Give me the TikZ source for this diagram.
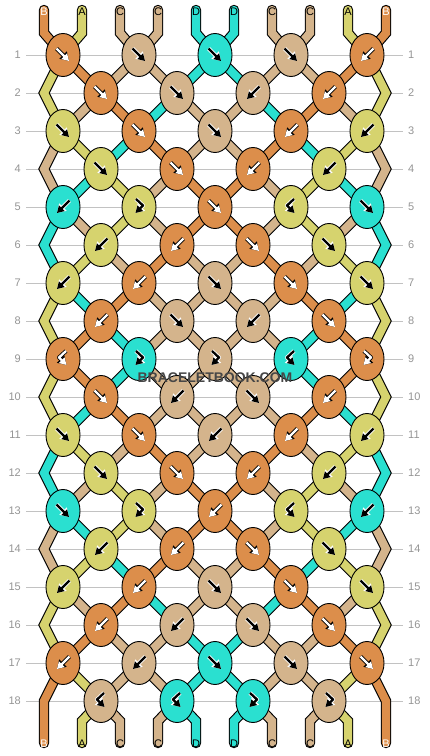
\documentclass[tikz,border=0pt]{standalone}
\usepackage{fontspec}
\setmainfont{Liberation Sans}
\usetikzlibrary{arrows.meta,shapes.geometric}

% thread colours: A yellow, B orange, C tan, D cyan
\definecolor{thA}{HTML}{D6D36E}
\definecolor{thB}{HTML}{DC8E4B}
\definecolor{thC}{HTML}{D4B48C}
\definecolor{thD}{HTML}{2AE0D0}
\colorlet{fgA}{black}\colorlet{fgB}{white}\colorlet{fgC}{black}\colorlet{fgD}{black}
\colorlet{bgA}{white}\colorlet{bgB}{black}\colorlet{bgC}{white}\colorlet{bgD}{white}

\tikzset{
  thread/.style={line width=8.2pt,line cap=round,line join=miter},
  threadrim/.style={thread,line width=10.4pt,draw=black},
  threadfill/.style={thread,draw=th\c},
  arrowrim/.style={draw=bg\c,line width=4pt,line join=round,-{Triangle[length=8.4pt,width=10pt]}},
  arrowfill/.style={draw=fg\c,line width=2.3pt,line join=round,-{Triangle[length=6.8pt,width=7.6pt]}},
}

\newcommand{\knotarrow}[1]{\draw[arrowrim] #1; \draw[arrowfill] #1;}
\newcommand{\arrowF}{\knotarrow{(-6.5,-6.5) -- (6,6)}}
\newcommand{\arrowB}{\knotarrow{(6.5,-6.5) -- (-6,6)}}
\newcommand{\arrowFB}{\knotarrow{(-3,-8) -- (4,-1.5) -- (-3.5,6)}}
\newcommand{\arrowBF}{\knotarrow{(3,-8) -- (-4,-1.5) -- (3.5,6)}}

% all thread pieces, once for the black rim and once for the colour
\newcommand{\drawstrands}[1]{%
  \foreach \c [count=\p] in {B,A,C,C,D,D,C,C,A,B}
    \draw[#1] (p0-\p) -- (s\p) -- (p1-\p);
  \foreach \g/\arr in {1/{A,B,C,C,D,D,C,C,B,A},2/{A,C,B,D,C,C,D,B,C,A},
      3/{C,A,D,B,C,C,B,D,A,C},4/{C,D,A,C,B,B,C,A,D,C},5/{D,C,A,C,B,B,C,A,C,D},
      6/{D,A,C,B,C,C,B,C,A,D},7/{A,D,B,C,C,C,C,B,D,A},8/{A,B,D,C,C,C,C,D,B,A},
      9/{A,B,D,C,C,C,C,D,B,A},10/{A,D,B,C,C,C,C,B,D,A},11/{D,A,C,B,C,C,B,C,A,D},
      12/{D,C,A,C,B,B,C,A,C,D},13/{C,D,A,C,B,B,C,A,D,C},14/{C,A,D,B,C,C,B,D,A,C},
      15/{A,C,B,D,C,C,D,B,C,A},16/{A,B,C,C,D,D,C,C,B,A},17/{B,A,C,C,D,D,C,C,A,B}} {
    \pgfmathtruncatemacro\gn{\g+1}
    \pgfmathtruncatemacro\gnn{\g+2}
    \foreach \c [count=\p] in \arr {
      \pgfmathtruncatemacro\edge{(\p==1)||(\p==10)}
      \ifnum\edge=1
        \ifodd\g\relax \draw[#1] (p\g-\p) -- (p\gn-\p) -- (p\gnn-\p);\fi
      \else
        \draw[#1] (p\g-\p) -- (p\gn-\p);
      \fi
    }
  }
  \foreach \c [count=\p] in {B,A,C,C,D,D,C,C,A,B} {
    \ifnum\p>1 \ifnum\p<10 \draw[#1] (p18-\p) -- (q\p) -- (p19-\p);\fi\fi
  }
}

\begin{document}
\begin{tikzpicture}[x=1pt,y=-1pt,
    knot/.style={ellipse,draw=black,line width=0.9pt,inner sep=0pt,
      minimum width=34pt,minimum height=43pt},
    rowline/.style={draw=black!24,line width=1pt},
    rownum/.style={text=black!42,inner sep=0pt,font=\fontsize{11}{11}\selectfont},
    endlabel/.style={inner sep=0pt,font=\fontsize{11}{11}\selectfont},
    watermark/.style={inner sep=0pt,font=\bfseries\fontsize{14}{14}\selectfont}]
  \useasboundingbox (0,0) rectangle (430,756);

  % row numbers and guide lines
  \foreach \r in {1,...,18} {
    \node[rownum,anchor=east] (left\r) at (21,17+38*\r) {\r};
    \node[rownum,anchor=west] (right\r) at (408,17+38*\r) {\r};
    \draw[rowline] ([xshift=5pt]left\r.east) -- ([xshift=-5pt]right\r.west);
  }

  % where each thread position sits in each row
  \foreach \r in {1,...,18}
    \foreach \p in {1,...,10} {
      \pgfmathsetmacro\px{isodd(\r) ? 63+76*int((\p-1)/2) :
        ((\p==1) ? 44 : ((\p==10) ? 386 : 101+76*int((\p-2)/2)))}
      \coordinate (p\r-\p) at (\px,17+38*\r);
    }
  \foreach \p in {1,...,10} {
    \coordinate (p0-\p) at (6+38*\p,10);
    \coordinate (s\p) at (6+38*\p,33);
    \coordinate (q\p) at (6+38*\p,721);
    \coordinate (p19-\p) at (6+38*\p,743);
  }

  \drawstrands{threadrim}
  \drawstrands{threadfill}

  % knots: colour/type
  \foreach \r/\row in {1/{B/F,C/F,D/F,C/F,B/B},2/{B/F,C/F,C/B,B/B},
      3/{A/F,B/F,C/F,B/B,A/B},4/{A/F,B/F,B/B,A/B},5/{D/B,A/FB,B/F,A/BF,D/F},
      6/{A/B,B/B,B/F,A/F},7/{A/B,B/B,C/F,B/F,A/F},8/{B/B,C/F,C/B,B/F},
      9/{B/BF,D/FB,C/FB,D/BF,B/FB},10/{B/F,C/B,C/F,B/B},11/{A/F,B/F,C/B,B/B,A/B},
      12/{A/F,B/F,B/B,A/B},13/{D/F,A/FB,B/B,A/BF,D/B},14/{A/B,B/B,B/F,A/F},
      15/{A/B,B/B,C/F,B/F,A/F},16/{B/B,C/B,C/F,B/F},17/{B/B,C/B,D/F,C/F,B/F},
      18/{C/BF,D/BF,D/FB,C/FB}} {
    \foreach \c/\t [count=\i] in \row {
      \pgfmathsetmacro\kx{(isodd(\r) ? 63 : 101)+76*(\i-1)}
      \node[knot,fill=th\c] (k\r-\i) at (\kx,17+38*\r) {};
      \begin{scope}[shift={(k\r-\i)}]
        \csname arrow\t\endcsname
      \end{scope}
    }
  }

  % thread letters
  \foreach \c [count=\p] in {B,A,C,C,D,D,C,C,A,B} {
    \node[endlabel,text=fg\c] (top\p) at (6+38*\p,12) {\c};
    \node[endlabel,text=fg\c] (bot\p) at (6+38*\p,744) {\c};
  }

  \node[watermark,text=black!72] (brand) at (215,377.5) {BRACELETBOOK.COM};
\end{tikzpicture}
\end{document}
